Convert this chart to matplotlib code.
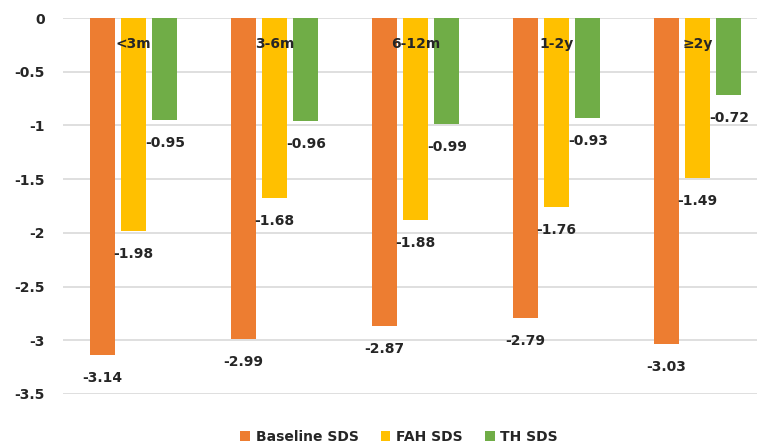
import matplotlib
matplotlib.use("Agg")
import matplotlib.pyplot as plt
import numpy as np

categories = ["<3m", "3-6m", "6-12m", "1-2y", "\u22652y"]
baseline = [-3.14, -2.99, -2.87, -2.79, -3.03]
fah = [-1.98, -1.68, -1.88, -1.76, -1.49]
th = [-0.95, -0.96, -0.99, -0.93, -0.72]
series_names = ["Baseline SDS", "FAH SDS", "TH SDS"]
colors = ["#ED7D31", "#FFC000", "#70AD47"]
yticks = [0, -0.5, -1, -1.5, -2, -2.5, -3, -3.5]

plt.rcParams['font.family'] = ['DejaVu Sans']
txt = "#262626"
fs = 10

fig = plt.figure(figsize=(7.57, 4.47), dpi=100)
ax = fig.add_axes([63/757, 1-394/447, 705/757, (394-18)/447])

x = np.arange(len(categories))
w = 0.177
step = 0.223
handles = []
for k, (vals, name, c) in enumerate(zip([baseline, fah, th], series_names, colors)):
    xs = x + (k-1)*step
    b = ax.bar(xs, vals, width=w, color=c, label=name, zorder=3)
    handles.append(b)
    for xi, v in zip(xs, vals):
        ax.annotate(f"{v:g}", (xi, v), xytext=(0, -23), textcoords="offset pixels",
                    ha="center", va="center", fontsize=fs, fontweight="bold", color=txt, zorder=4)

for i, c in enumerate(categories):
    ax.text(i, -0.24, c, ha="center", va="center", fontsize=fs, fontweight="bold", color=txt, zorder=5)

ax.set_xlim(-0.5, len(categories)-0.5)
ax.set_ylim(-3.5, 0)
ax.set_yticks(yticks)
ax.set_yticklabels([f"{t:g}" for t in yticks], fontsize=fs, fontweight="bold", color=txt)
ax.set_xticks([])
ax.grid(axis="y", color="#D9D9D9", linewidth=1.2, zorder=0)
for s in ax.spines.values():
    s.set_visible(False)
ax.tick_params(axis="y", length=0, pad=13)

leg = fig.legend(handles=handles, labels=series_names, loc="center", bbox_to_anchor=(399/757, 1-437/447),
           ncol=3, frameon=False, handlelength=0.7, handleheight=0.7,
           handletextpad=0.4, columnspacing=1.6, prop={'weight': 'bold', 'size': fs})
for t in leg.get_texts():
    t.set_color(txt)

fig.savefig("out.png", dpi=100)
